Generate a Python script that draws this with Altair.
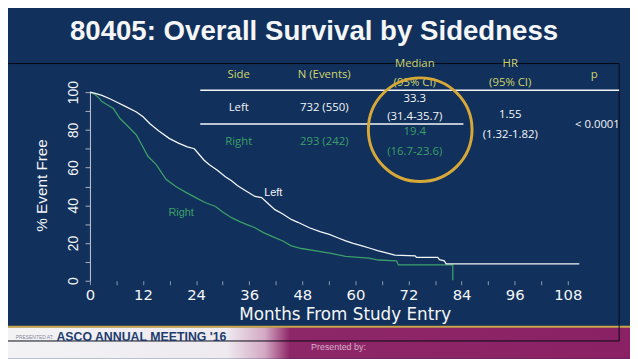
import altair as alt
import pandas as pd

# ---------------- data ----------------
left_t = [0, 1, 2.7, 4.5, 6.0, 8, 10.5, 12, 13.5, 15.5, 17.9, 20, 22, 23.6, 24.5, 25.8, 27,
          28.8, 30.6, 32, 33.3, 35, 37.3, 38.8, 40, 41.8, 43.5, 45.5, 47, 49.6, 52, 54.1, 56,
          57.8, 59.5, 61.5, 63.5, 65.2, 67, 68.9, 73.5, 73.8, 78.6, 79, 80.1, 80.5, 110.6]
left_s = [100, 99.5, 98.3, 96.5, 94.8, 92.5, 89.5, 87, 83.4, 79.5, 75.5, 73, 71, 70, 67.5, 63.9, 61.5,
          58.6, 55.1, 53, 50.5, 48, 44.7, 44.1, 41.5, 37.7, 35.5, 32.5, 31, 28.1, 26, 24.6, 22.8,
          21.1, 19.8, 18.5, 17.1, 15.9, 14.8, 13.6, 13.2, 12.4, 12.4, 11.2, 10.6, 8.9, 8.9]

right_t = [0, 1.0, 2.0, 2.7, 3.8, 5.3, 6.8, 8.3, 10.5, 12.0, 13.1, 15.0, 16.0, 17.2, 19.4, 21.6,
           23.9, 26.0, 28.4, 30.0, 32.1, 34.0, 35.5, 37.3, 39.2, 41.8, 43.5, 45.5, 47.8, 51.1,
           54.5, 57.8, 60, 63.0, 65.2, 69.3, 69.7, 82.0, 82.0]
right_s = [100, 99.0, 97.0, 95.0, 93.5, 91.3, 86.0, 82.6, 77.3, 70.8, 66.0, 61.6, 58.0, 53.8, 50.0, 47.0,
           44.1, 41.5, 39.4, 36.5, 33.3, 31.2, 29.8, 28.1, 25.5, 22.9, 21.2, 18.5, 17.1, 15.9,
           14.5, 12.9, 12.5, 12.0, 11.0, 10.6, 8.4, 8.4, 0.3]

x_ticks = list(range(0, 109, 6))
y_ticks = list(range(0, 101, 10))

title_text = "80405: Overall Survival by Sidedness"
x_title = "Months From Study Entry"
y_title = "% Event Free"

hdr_side, hdr_n, hdr_med1, hdr_med2, hdr_hr1, hdr_hr2, hdr_p = (
    "Side", "N (Events)", "Median", "(95% CI)", "HR", "(95% CI)", "p")
row_left = ["Left", "732 (550)", "33.3", "(31.4-35.7)"]
row_right = ["Right", "293 (242)", "19.4", "(16.7-23.6)"]
hr_vals = ["1.55", "(1.32-1.82)"]
p_val = "< 0.0001"

# ---------------- styles ----------------
BG = "#11305b"
WHITE = "#f4f6f8"
GREEN = "#3c9f69"
YELLOW = "#cfd46e"
GOLD = "#d6a838"
SANS = "Liberation Sans"
TABLEF = "Open Sans"

one = pd.DataFrame({"k": [0]})


def txt(s, x, y, size=11.5, color=WHITE, font=TABLEF, weight="normal", align="center",
        baseline="middle", angle=0):
    return alt.Chart(one).mark_text(text=s, fontSize=size, color=color, font=font,
                                    fontWeight=weight, align=align, baseline=baseline,
                                    angle=angle).encode(x=alt.value(x), y=alt.value(y))


def rule(x, x2, y, color=WHITE, w=1.5):
    return alt.Chart(one).mark_rule(color=color, strokeWidth=w).encode(
        x=alt.value(x), x2=alt.value(x2), y=alt.value(y))


# curves
left_df = pd.DataFrame({"t": left_t, "s": left_s, "i": range(len(left_t))})
right_df = pd.DataFrame({"t": right_t, "s": right_s, "i": range(len(right_t))})

x_enc = alt.X("t:Q", scale=alt.Scale(domain=[0, 108], nice=False, zero=False),
              axis=alt.Axis(values=x_ticks, labelExpr="datum.value % 12 == 0 ? datum.label : ''",
                            title=None, domain=False, grid=False, tickSize=4, tickColor="#8f9bb0",
                            labelColor=WHITE, labelFont="DejaVu Sans", labelFontSize=15,
                            labelPadding=3, labelFlush=False, labelOverlap=False))
y_enc = alt.Y("s:Q", scale=alt.Scale(domain=[0, 100], nice=False),
              axis=alt.Axis(values=y_ticks, labelExpr="datum.value % 20 == 0 ? datum.label : ''",
                            title=None, grid=False, domainColor="#c5ccd8", tickColor="#a9b3c4",
                            tickSize=5, labelAngle=-90, labelAlign="center", labelBaseline="bottom",
                            labelColor=WHITE, labelFont=SANS, labelFontSize=14, labelPadding=5,
                            labelFlush=False, labelOverlap=False))

green_line = alt.Chart(right_df).mark_line(color=GREEN, strokeWidth=1.3, clip=False).encode(
    x=x_enc, y=y_enc, order="i:Q")
white_line = alt.Chart(left_df).mark_line(color=WHITE, strokeWidth=1.3, clip=False).encode(
    x=x_enc, y=y_enc, order="i:Q")

# decorations (pixel values relative to plot origin)
banner = alt.Chart(one).mark_rect(fill=alt.Gradient(
    gradient="linear", x1=0, x2=1, y1=0, y2=0,
    stops=[alt.GradientStop(offset=0, color="#f3f3f5"),
           alt.GradientStop(offset=0.36, color="#eeeaf0"),
           alt.GradientStop(offset=0.42, color="#d4a9c4"),
           alt.GradientStop(offset=0.46, color="#8e2768"),
           alt.GradientStop(offset=1, color="#8a2164")])).encode(
    x=alt.value(-91), x2=alt.value(547), y=alt.value(238), y2=alt.value(270))
gold_line = rule(-91, 547, 237.5, color="#c9a54e", w=2)
frame = alt.Chart(one).mark_rect(fill=None, stroke="#050a14", strokeWidth=1).encode(
    x=alt.value(-95), x2=alt.value(536), y=alt.value(-29), y2=alt.value(252))

layers = [banner, gold_line, frame, green_line, white_line,
          txt("Left", 185.7, 102.3, size=11, font=SANS),
          txt("Right", 92.3, 122.3, size=11, color=GREEN, font=SANS),
          # table
          txt(hdr_side, 150.7, -17.7, color=YELLOW),
          txt(hdr_n, 237.3, -17.7, color=YELLOW),
          txt(hdr_med1, 329, -28.3, color=YELLOW),
          txt(hdr_med2, 329, -9.3, color=YELLOW),
          txt(hdr_hr1, 425.7, -28.3, color=YELLOW),
          txt(hdr_hr2, 425.7, -9.3, color=YELLOW),
          txt(hdr_p, 510.7, -17.7, color=YELLOW),
          txt(row_left[0], 150.7, 16.3),
          txt(row_left[1], 237.3, 16.3),
          txt(row_left[2], 329, 6.7),
          txt(row_left[3], 329, 25),
          txt(row_right[0], 150.7, 50.7, color=GREEN),
          txt(row_right[1], 237.3, 50.7, color=GREEN),
          txt(row_right[2], 329, 40.7, color=GREEN),
          txt(row_right[3], 329, 60.7, color=GREEN),
          txt(hr_vals[0], 425.7, 23.3),
          txt(hr_vals[1], 425.7, 43.3),
          txt(p_val, 514, 33),
          rule(111.7, 536, -2),
          rule(111.7, 378.3, 32.3),
          alt.Chart(one).mark_point(shape="circle", filled=False, size=11025, stroke=GOLD,
                                    strokeWidth=3, opacity=1).encode(
              x=alt.value(334.5), y=alt.value(38)),
          # titles
          txt(title_text, 227, -61, size=28, font=SANS, weight="bold"),
          txt(y_title, -48.3, 94.5, size=15.5, font=SANS, angle=270),
          txt(x_title, 258.5, 226, size=17, font="DejaVu Sans"),
          # banner texts
          txt("PRESENTED AT:", -56, 248, size=5, color="#8a8a9a", font=SANS),
          txt("ASCO ANNUAL MEETING '16", -34, 248, size=12.5, color="#1e3d6e", font=SANS,
              weight="bold", align="left"),
          txt("Presented by:", 224, 258, size=9, color="#d5b0c8", font=SANS,
              align="left"),
          ]

chart = alt.layer(*layers).properties(
    width=484, height=191,
    autosize=alt.AutoSizeParams(type="none"),
    padding={"left": 83, "top": 83, "right": 63, "bottom": 77},
).configure(background=BG).configure_view(stroke=None)

chart.save("out.html", embed_options={"renderer": "svg", "actions": False})
